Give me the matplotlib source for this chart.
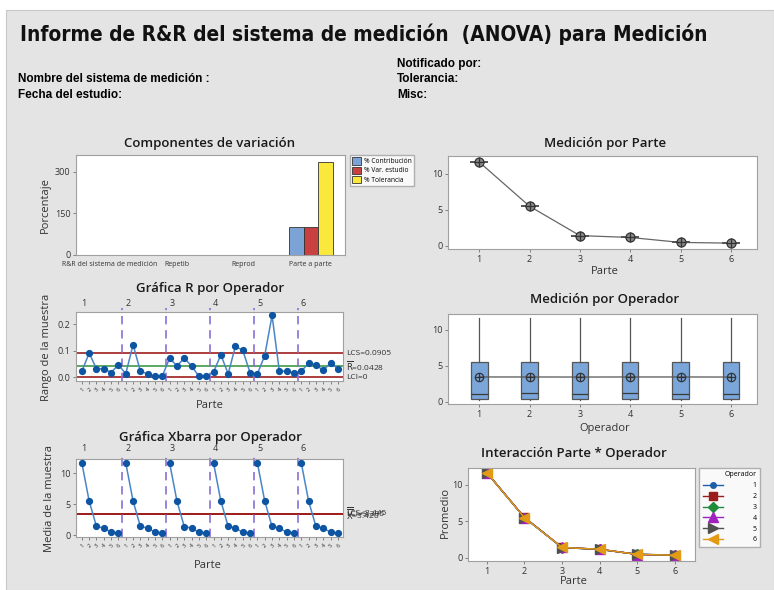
import matplotlib
matplotlib.use("Agg")
import matplotlib.pyplot as plt
import matplotlib.transforms as mtrans
from matplotlib.patches import Rectangle
import numpy as np

plt.rcParams['font.family'] = ['Open Sans', 'DejaVu Sans']

W, H = 774, 590
BG = "#e4e4e4"

# ---- datos ----
comp_labels = ["R&R del sistema de medición", "Repetib", "Reprod", "Parte a parte"]
pct_contrib = [0.3, 0.2, 0.1, 99.7]
pct_var_est = [0.5, 0.4, 0.3, 99.9]
pct_tol = [0.8, 0.6, 0.4, 334.0]

partes = [1, 2, 3, 4, 5, 6]
operadores = [1, 2, 3, 4, 5, 6]

rango_op1 = [0.023, 0.091, 0.032, 0.032, 0.018, 0.047]
rango_op2 = [0.013, 0.123, 0.023, 0.013, 0.004, 0.004]
rango_op3 = [0.073, 0.042, 0.073, 0.042, 0.004, 0.004]
rango_op4 = [0.019, 0.085, 0.013, 0.117, 0.101, 0.017]
rango_op5 = [0.013, 0.082, 0.233, 0.023, 0.023, 0.017]
rango_op6 = [0.023, 0.053, 0.047, 0.026, 0.054, 0.032]

media_op1 = [11.66, 5.50, 1.40, 1.15, 0.46, 0.36]
media_op2 = [11.68, 5.52, 1.41, 1.16, 0.45, 0.37]
media_op3 = [11.64, 5.49, 1.39, 1.14, 0.46, 0.34]
media_op4 = [11.67, 5.51, 1.42, 1.15, 0.44, 0.36]
media_op5 = [11.65, 5.50, 1.40, 1.13, 0.47, 0.37]
media_op6 = [11.66, 5.48, 1.41, 1.16, 0.45, 0.35]

lcs_r, rbar, lci_r = 0.0905, 0.0428, 0.0
lcs_x, xbarbar, lci_x = 3.445, 3.420, 3.395

box_q1 = [0.42, 0.42, 0.42, 0.42, 0.42, 0.42]
box_med = [1.12, 1.26, 1.12, 1.26, 1.12, 1.12]
box_q3 = [5.49, 5.49, 5.49, 5.49, 5.49, 5.49]
box_lo = [0.30, 0.30, 0.30, 0.30, 0.30, 0.30]
box_hi = [11.63, 11.70, 11.60, 11.70, 11.62, 11.68]
box_mean = [3.44, 3.44, 3.43, 3.44, 3.44, 3.43]

rangos = [rango_op1, rango_op2, rango_op3, rango_op4, rango_op5, rango_op6]
medias = [media_op1, media_op2, media_op3, media_op4, media_op5, media_op6]

fig = plt.figure(figsize=(W / 100, H / 100), dpi=100)
fig.patch.set_facecolor('white')
fig.add_artist(Rectangle((6 / W, 0), 1 - 6 / W, 1 - 10 / H, transform=fig.transFigure,
                         facecolor=BG, edgecolor='#c8c8c8', lw=0.8, zorder=0))


def box(l, t, r, b):
    ax = fig.add_axes([l / W, 1 - b / H, (r - l) / W, (b - t) / H])
    ax.set_facecolor('white')
    for s in ax.spines.values():
        s.set_color('#a0a0a0')
        s.set_linewidth(0.8)
    ax.tick_params(length=2.5, width=0.6, color='#707070', labelsize=6.5,
                   labelcolor='#333333', pad=1.5)
    return ax


def ftext(x, y, s, **kw):
    return fig.text(x / W, 1 - y / H, s, **kw)


def ptitle(x, y, s):
    ftext(x, y, s, fontsize=9.5, fontweight='semibold', color='#1a1a1a', ha='center', va='center')


# ---- encabezado ----
hdr = ['Liberation Sans Narrow', 'Liberation Sans', 'DejaVu Sans']
tt = ftext(20, 34, "Informe de R&R del sistema de medición  (ANOVA) para Medición",
           fontsize=19, fontweight='bold', family=['Liberation Sans Narrow', 'DejaVu Sans'],
           fontstretch='condensed', va='center', color='#111111')
# ajustar el ancho del titulo al del original
ren = fig.canvas.get_renderer()
ancho = tt.get_window_extent(ren).width
if ancho > 688:
    tt.set_fontsize(19 * 688 / ancho)

ftext(397, 64, "Notificado por:", fontsize=8.5, fontweight='bold', family=hdr, va='center')
ftext(18, 79, "Nombre del sistema de medición :", fontsize=8.5, fontweight='bold', family=hdr, va='center')
ftext(397, 79, "Tolerancia:", fontsize=8.5, fontweight='bold', family=hdr, va='center')
ftext(18, 95, "Fecha del estudio:", fontsize=8.5, fontweight='bold', family=hdr, va='center')
ftext(397, 95, "Misc:", fontsize=8.5, fontweight='bold', family=hdr, va='center')

# ---- Componentes de variación ----
ptitle(210, 143, "Componentes de variación")
ax1 = box(76, 155, 345, 255)
x = np.arange(len(comp_labels))
w = 0.216
ax1.bar(x - w, pct_contrib, w, color='#7ba3d6', edgecolor='#333333', lw=0.6, label='% Contribución')
ax1.bar(x, pct_var_est, w, color='#c8403f', edgecolor='#333333', lw=0.6, label='% Var. estudio')
ax1.bar(x + w, pct_tol, w, color='#fbe83c', edgecolor='#333333', lw=0.6, label='% Tolerancia')
ax1.set_xlim(-0.5, 3.51)
ax1.set_ylim(0, 360)
ax1.set_yticks([0, 150, 300])
ax1.set_xticks(x)
ax1.set_xticklabels(comp_labels, fontsize=5)
ax1.tick_params(axis='x', length=0, pad=4)
ftext(45, 205, "Porcentaje", rotation=90, fontsize=8, color='#333333', ha='center', va='center')
ax1.legend(loc='upper left', bbox_to_anchor=(1.019, 1.0), borderaxespad=0, fontsize=4.8,
           frameon=True, fancybox=False, edgecolor='#a0a0a0', handlelength=1.3, handleheight=1.3,
           borderpad=0.35, labelspacing=0.2, handletextpad=0.4)

# ---- Gráfica R ----
ptitle(210, 289, "Gráfica R por Operador")
ax2 = box(76, 312, 343, 381)
idx = np.arange(1, 37)
r_all = np.concatenate(rangos)
ax2.axhline(lcs_r, color='#a01c1c', lw=1.2, zorder=2)
ax2.axhline(rbar, color='#3f9a46', lw=1.2, zorder=2)
ax2.axhline(lci_r, color='#a01c1c', lw=1.2, zorder=2)
ax2.plot(idx, r_all, color='#4a85c8', lw=1.1, marker='o', ms=4.2, mfc='#0d55a3', mec='#0d55a3', zorder=3)
ax2.set_xlim(0.2, 36.7)
ax2.set_ylim(-0.014, 0.246)
ax2.set_yticks([0.0, 0.1, 0.2])
ax2.set_yticklabels(['0.0', '0.1', '0.2'])
tl = [str(p) for op in operadores for p in partes]
ax2.set_xticks(idx)
ax2.set_xticklabels(tl, rotation=45, fontsize=4.2, ha='right', rotation_mode='anchor')
trb = mtrans.blended_transform_factory(ax2.transAxes, ax2.transData)
ax2.text(1.012, lcs_r, "LCS=0.0905", transform=trb, fontsize=6, va='center', color='#333333')
ax2.text(1.012, rbar, r"$\overline{\mathsf{R}}$=0.0428", transform=trb, fontsize=6, va='center',
         color='#333333')
ax2.text(1.012, lci_r, "LCI=0", transform=trb, fontsize=6, va='center', color='#333333')
ftext(47, 347, "Rango de la muestra", rotation=90, fontsize=8, color='#333333', ha='center', va='center')
ftext(210, 405, "Parte", fontsize=8, color='#333333', ha='center', va='center')

# ---- Gráfica Xbarra ----
ptitle(210, 437, "Gráfica Xbarra por Operador")
ax3 = box(76, 459, 343, 537)
x_all = np.concatenate(medias)
ax3.axhline(xbarbar, color='#3f9a46', lw=1.2, zorder=2)
ax3.axhline(lcs_x, color='#a01c1c', lw=1.2, zorder=2)
ax3.axhline(lci_x, color='#a01c1c', lw=1.2, zorder=2)
for k in range(len(operadores)):
    ax3.plot(idx[6 * k:6 * k + 6], x_all[6 * k:6 * k + 6], color='#4a85c8', lw=1.1, marker='o',
             ms=4.2, mfc='#0d55a3', mec='#0d55a3', zorder=3)
ax3.set_xlim(0.2, 36.7)
ax3.set_ylim(-0.3, 12.3)
ax3.set_yticks([0, 5, 10])
ax3.set_xticks(idx)
ax3.set_xticklabels(tl, rotation=45, fontsize=4.2, ha='right', rotation_mode='anchor')
trx = mtrans.blended_transform_factory(ax3.transAxes, ax3.transData)
# en el original estas tres etiquetas quedan superpuestas
ax3.text(1.012, lcs_x, "LCS=3.445", transform=trx, fontsize=6, va='center', color='#333333')
ax3.text(1.012, xbarbar, r"$\overline{\overline{\mathsf{X}}}$=3.420", transform=trx, fontsize=6,
         va='center', color='#333333')
ax3.text(1.012, lci_x, "LCI=3.395", transform=trx, fontsize=6, va='center', color='#333333')
ftext(49, 498, "Media de la muestra", rotation=90, fontsize=8, color='#333333', ha='center', va='center')
ftext(208, 565, "Parte", fontsize=8, color='#333333', ha='center', va='center')

for ax in (ax2, ax3):
    for k in range(1, len(operadores)):
        ax.axvline(6 * k + 0.5, ymin=0, ymax=1.06, color='#8a6fd6', lw=1.2, ls=(0, (5, 3.5)),
                   clip_on=False, zorder=2)
    for k, op in enumerate(operadores):
        ax.text(6 * k + 1.3, 1.13, str(op), transform=ax.get_xaxis_transform(), fontsize=6.5,
                ha='center', va='center', color='#333333')

# ---- Medición por Parte ----
ptitle(605, 144, "Medición por Parte")
ax4 = box(448, 156, 757, 249)
parte_media = np.mean(np.array(medias), axis=0)
ax4.plot(partes, parte_media, color='#666666', lw=0.9)
ax4.plot(partes, parte_media, ls='none', marker='_', ms=13, mew=1.4, color='#555555')
ax4.plot(partes, parte_media, ls='none', marker='o', ms=6.5, mfc='#8a8a8a', mec='#333333', mew=0.9)
ax4.plot(partes, parte_media, ls='none', marker='+', ms=6.5, color='#333333', mew=0.9)
ax4.set_xlim(0.38, 6.52)
ax4.set_ylim(-0.46, 12.5)
ax4.set_yticks([0, 5, 10])
ax4.set_xticks(partes)
ftext(605, 271, "Parte", fontsize=8, color='#333333', ha='center', va='center')

# ---- Medición por Operador ----
ptitle(605, 299, "Medición por Operador")
ax5 = box(448, 314, 757, 404)
stats = [dict(q1=box_q1[i], med=box_med[i], q3=box_q3[i], whislo=box_lo[i], whishi=box_hi[i],
              fliers=[], label=str(operadores[i])) for i in range(len(operadores))]
ax5.bxp(stats, positions=operadores, widths=0.33, patch_artist=True, showcaps=False,
        boxprops=dict(facecolor='#7aa6da', edgecolor='#555555', lw=0.9),
        medianprops=dict(color='#3a3a3a', lw=0.9),
        whiskerprops=dict(color='#555555', lw=0.9))
ax5.plot(operadores, box_mean, color='#555555', lw=0.9, zorder=4)
ax5.plot(operadores, box_mean, ls='none', marker='o', ms=6, mfc='none', mec='#333333', mew=0.9, zorder=5)
ax5.plot(operadores, box_mean, ls='none', marker='+', ms=6, color='#333333', mew=0.9, zorder=5)
ax5.set_xlim(0.38, 6.52)
ax5.set_ylim(-0.32, 12.2)
ax5.set_yticks([0, 5, 10])
ax5.set_yticklabels(['0', '5', '10'])
ftext(605, 428, "Operador", fontsize=8, color='#333333', ha='center', va='center')

# ---- Interacción ----
ptitle(574, 454, "Interacción Parte * Operador")
ax6 = box(468, 468, 695, 561)
colores = ['#1f5ea8', '#9b1c1c', '#1e8c3a', '#a020c0', '#505050', '#e39b16']
marcas = ['o', 's', 'D', '^', '>', '<']
tam = [4, 6, 5.5, 6.5, 6.5, 6.5]
for i, op in enumerate(operadores):
    ax6.plot(partes, medias[i], color=colores[i], marker=marcas[i], ms=tam[i], lw=1.0,
             mfc=colores[i], mec=colores[i], label=str(op))
ax6.set_xlim(0.5, 6.53)
ax6.set_ylim(-0.45, 12.3)
ax6.set_yticks([0, 5, 10])
ax6.set_xticks(partes)
leg = ax6.legend(loc='upper left', bbox_to_anchor=(1.018, 1.0), borderaxespad=0, fontsize=5,
                 title='Operador', title_fontsize=5, frameon=True, fancybox=False,
                 edgecolor='#a0a0a0', handlelength=3.0, handletextpad=4.2, labelspacing=0.55,
                 borderpad=0.5, alignment='right')
ftext(445, 513, "Promedio", rotation=90, fontsize=8, color='#333333', ha='center', va='center')
ftext(574, 582, "Parte", fontsize=8, color='#333333', ha='center', va='center')

fig.savefig("out.png", dpi=100, facecolor=fig.get_facecolor())
